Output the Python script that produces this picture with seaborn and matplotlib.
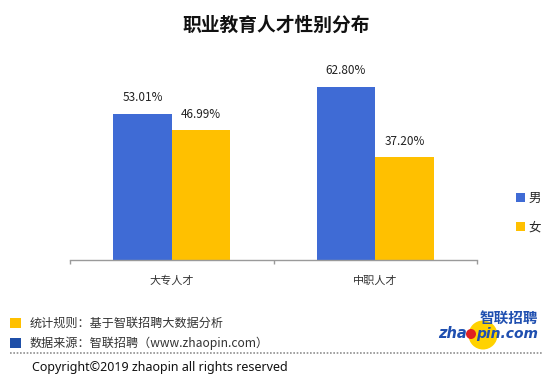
import matplotlib
matplotlib.use("Agg")
import matplotlib.pyplot as plt
import seaborn as sns
import pandas as pd
from matplotlib.patches import Ellipse, Rectangle
from matplotlib.lines import Line2D

categories = ["大专人才", "中职人才"]
genders = ["男", "女"]
male_values = [53.01, 62.80]
female_values = [46.99, 37.20]
title = "职业教育人才性别分布"
footer_rule = "统计规则：基于智联招聘大数据分析"
footer_source = "数据来源：智联招聘（www.zhaopin.com）"
copyright_text = "Copyright©2019 zhaopin all rights reserved"

BLUE = "#3F6BD5"
YELLOW = "#FFC000"

sns.set_theme(style="white")
plt.rcParams['font.family'] = ['Noto Sans CJK SC', 'DejaVu Sans']

df = pd.DataFrame({
    "category": categories * 2,
    "gender": [genders[0]] * len(categories) + [genders[1]] * len(categories),
    "value": male_values + female_values,
})

W, H = 553, 381
fig = plt.figure(figsize=(W / 100, H / 100), dpi=100)
ax = fig.add_axes([70 / W, (H - 260) / H, (477 - 70) / W, 193 / H])

sns.barplot(data=df, x="category", y="value", hue="gender", hue_order=genders,
            palette=[BLUE, YELLOW], width=0.576, saturation=1, ax=ax,
            edgecolor="none", linewidth=0)

for cont in ax.containers:
    ax.bar_label(cont, fmt="%.2f%%", padding=7, fontsize=8.5, color="#222222")

ax.set_xlim(-0.5, 1.5)
ax.set_ylim(0, 70)
ax.set_xlabel("")
ax.set_ylabel("")
ax.set_yticks([])
for s in ["top", "right", "left"]:
    ax.spines[s].set_visible(False)
ax.spines["bottom"].set_color("#9A9A9A")
ax.spines["bottom"].set_linewidth(1)
ax.spines["bottom"].set_linestyle((0, (2, 1)))
ax.set_xticks([0, 1])
ax.set_xticklabels(categories, fontsize=8, color="#333333")
ax.tick_params(axis="x", which="major", length=0, pad=11)
ax.set_xticks([-0.5, 0.5, 1.5], minor=True)
ax.tick_params(axis="x", which="minor", bottom=True, length=3,
               color="#9A9A9A", width=1)

leg = ax.legend(loc="center left", bbox_to_anchor=(505 / W, 1 - 213 / H),
                bbox_transform=fig.transFigure, frameon=False, fontsize=9,
                handlelength=0.7, handleheight=0.7, handletextpad=0.3,
                labelspacing=1.3)

fig.text(276 / W, 1 - 25 / H, title, ha="center", va="center",
         fontsize=13.5, fontweight="bold", color="#111111")

# footer
fig.add_artist(Rectangle((10 / W, 1 - 328 / H), 11 / W, 10 / H,
                         transform=fig.transFigure, color=YELLOW, lw=0))
fig.add_artist(Rectangle((10 / W, 1 - 348 / H), 11 / W, 10 / H,
                         transform=fig.transFigure, color="#1F4FA8", lw=0))
fig.text(30 / W, 1 - 323 / H, footer_rule, ha="left", va="center",
         fontsize=8.7, color="#333333")
fig.text(30 / W, 1 - 343 / H, footer_source, ha="left", va="center",
         fontsize=8.7, color="#333333")
fig.add_artist(Line2D([10 / W, 542 / W], [1 - 353 / H, 1 - 353 / H],
                      transform=fig.transFigure, color="#909090",
                      linestyle=(0, (1, 1)), linewidth=1.2))
fig.text(32 / W, 1 - 368 / H, copyright_text, ha="left", va="center",
         fontsize=9, color="#111111", family=['Noto Sans', 'DejaVu Sans'])

# logo
fig.add_artist(Ellipse((483 / W, 1 - 335 / H), 29 / W, 29 / H,
                       transform=fig.transFigure, color="#FFD200", lw=0))
fig.add_artist(Ellipse((471 / W, 1 - 334 / H), 10 / W, 10 / H,
                       transform=fig.transFigure, color="#E02020", lw=0))
fig.text(467 / W, 1 - 334 / H, "zha", ha="right", va="center", fontsize=10.5,
         fontweight="bold", fontstyle="italic", color="#1F4FB0",
         family=['DejaVu Sans'])
fig.text(476 / W, 1 - 334 / H, "pin.com", ha="left", va="center", fontsize=10,
         fontweight="bold", fontstyle="italic", color="#1F4FB0",
         family=['DejaVu Sans'])
fig.text(509 / W, 1 - 318 / H, "智联招聘", ha="center", va="center", fontsize=10.5,
         fontweight="bold", color="#1F4FB0")

fig.savefig("out.png", dpi=100)
